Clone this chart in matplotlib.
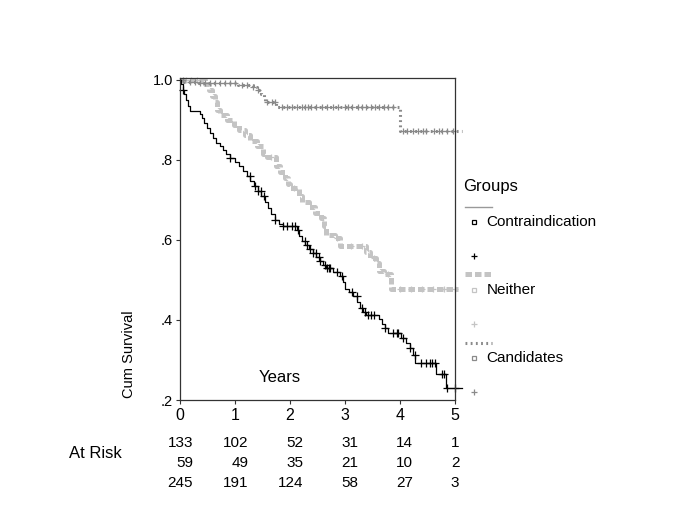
import numpy as np
import matplotlib
matplotlib.use("Agg")
import matplotlib.pyplot as plt

plt.rcParams['font.family'] = ['Liberation Sans', 'DejaVu Sans']

# Kaplan-Meier steps (years, survival after step)
contra_t = [0.02, 0.05, 0.08, 0.11, 0.14, 0.18, 0.36, 0.40, 0.44, 0.49, 0.54, 0.60,
            0.66, 0.72, 0.78, 0.84, 0.90, 1.00, 1.08, 1.15, 1.22, 1.28, 1.35, 1.42,
            1.48, 1.55, 1.60, 1.66, 1.72, 1.80, 1.87, 2.12, 2.17, 2.22, 2.28, 2.35,
            2.42, 2.48, 2.55, 2.60, 2.66, 2.78, 2.90, 2.96, 3.00, 3.08, 3.15, 3.22,
            3.27, 3.33, 3.38, 3.62, 3.67, 3.73, 3.79, 4.02, 4.10, 4.18, 4.23, 4.28,
            4.66, 4.84]
contra_s = [0.99, 0.975, 0.965, 0.95, 0.935, 0.922, 0.915, 0.905, 0.893, 0.88, 0.868, 0.855,
            0.843, 0.835, 0.826, 0.815, 0.805, 0.795, 0.785, 0.772, 0.76, 0.748, 0.735, 0.722,
            0.71, 0.695, 0.68, 0.665, 0.65, 0.64, 0.635, 0.625, 0.61, 0.598, 0.588, 0.578,
            0.568, 0.558, 0.548, 0.537, 0.53, 0.52, 0.51, 0.495, 0.478, 0.47, 0.46, 0.445,
            0.43, 0.42, 0.413, 0.402, 0.39, 0.379, 0.368, 0.356, 0.343, 0.33, 0.312, 0.292,
            0.265, 0.229]
contra_cens = [0.06, 0.9, 1.27, 1.36, 1.42, 1.47, 1.52, 1.73, 1.88, 1.94, 2.03, 2.09,
               2.15, 2.27, 2.31, 2.36, 2.42, 2.47, 2.52, 2.55, 2.64, 2.67, 2.70, 2.73,
               2.85, 2.94, 3.12, 3.21, 3.30, 3.36, 3.42, 3.47, 3.52, 3.73, 3.88, 3.94,
               3.97, 4.06, 4.18, 4.27, 4.39, 4.48, 4.54, 4.58, 4.64, 4.76, 4.80, 4.85, 5.0]
contra_end = 5.12

neither_t = [0.45, 0.52, 0.58, 0.63, 0.67, 0.72, 0.85, 0.98, 1.08, 1.18, 1.28, 1.40,
             1.50, 1.58, 1.75, 1.82, 1.90, 1.97, 2.00, 2.17, 2.22, 2.35, 2.45, 2.56,
             2.62, 2.66, 2.82, 2.90, 3.38, 3.45, 3.56, 3.61, 3.70, 3.83]
neither_s = [0.99, 0.975, 0.96, 0.945, 0.925, 0.912, 0.9, 0.888, 0.875, 0.862, 0.848, 0.835,
             0.815, 0.807, 0.785, 0.77, 0.755, 0.74, 0.729, 0.71, 0.695, 0.683, 0.668, 0.655,
             0.635, 0.613, 0.605, 0.585, 0.571, 0.555, 0.543, 0.522, 0.515, 0.477]
neither_cens = [0.1, 0.2, 0.3, 1.65, 2.08, 2.6, 2.85, 3.1, 3.3, 3.52, 3.78, 4.0, 4.2,
                4.4, 4.6, 4.8, 5.0]
neither_end = 5.06

cand_t = [0.08, 0.30, 1.05, 1.32, 1.40, 1.47, 1.52, 1.55, 1.75, 4.00]
cand_s = [0.995, 0.993, 0.988, 0.982, 0.975, 0.965, 0.955, 0.946, 0.932, 0.873]
cand_cens = [0.06, 0.18, 0.27, 0.36, 0.45, 0.55, 0.64, 0.73, 0.82, 0.91, 1.0, 1.12,
             1.21, 1.33, 1.42, 1.58, 1.67, 1.73, 1.85, 1.94, 2.03, 2.12, 2.21, 2.27,
             2.33, 2.39, 2.48, 2.58, 2.67, 2.79, 2.88, 3.0, 3.06, 3.12, 3.24, 3.30,
             3.39, 3.48, 3.55, 3.61, 3.70, 3.79, 3.88, 4.06, 4.12, 4.24, 4.33, 4.42,
             4.48, 4.61, 4.70, 4.76, 4.85, 4.97]
cand_end = 5.12

risk_times = [0, 1, 2, 3, 4, 5]
risk_contra = [133, 102, 52, 31, 14, 1]
risk_neither = [59, 49, 35, 21, 10, 2]
risk_cand = [245, 191, 124, 58, 27, 3]

group_names = ["Contraindication", "Neither", "Candidates"]
y_ticks = [0.2, 0.4, 0.6, 0.8, 1.0]
y_tick_labels = [".2", ".4", ".6", ".8", "1.0"]

BLACK = "black"
LIGHT = "#c4c4c4"
MID = "#8a8a8a"


def surv_at(times, surv, c):
    i = np.searchsorted(times, c, side='right')
    return np.r_[1.0, surv][i]


def draw_km(ax, times, surv, end, cens, color, lw, ls, mcolor, msize):
    x = np.r_[0.0, times, end]
    y = np.r_[1.0, surv, surv[-1]]
    ax.step(x, y, where='post', color=color, lw=lw, linestyle=ls, clip_on=False)
    cy = [surv_at(times, surv, c) for c in cens]
    ax.plot(cens, cy, linestyle='none', marker='+', color=mcolor,
            markersize=msize, mew=0.9, clip_on=False)


W, H = 685, 513
fig = plt.figure(figsize=(W / 100, H / 100), dpi=100)
ax = fig.add_axes([180 / W, 1 - 400 / H, 275 / W, 322 / H])

draw_km(ax, neither_t, neither_s, neither_end, neither_cens, LIGHT, 3.6,
        (0, (1.3, 0.6)), LIGHT, 5)
draw_km(ax, cand_t, cand_s, cand_end, cand_cens, MID, 2.2,
        (0, (0.6, 1.1)), MID, 5)
draw_km(ax, contra_t, contra_s, contra_end, contra_cens, BLACK, 0.9, '-', BLACK, 6)

ax.set_xlim(0, 5)
ax.set_ylim(0.2, 1.005)
ax.set_xticks(risk_times)
ax.set_yticks(y_ticks)
ax.set_yticklabels(y_tick_labels)
ax.tick_params(axis='x', labelsize=11.5, length=3, width=0.8, pad=3, color='#333333')
ax.tick_params(axis='y', labelsize=10.5, length=3, width=0.8, pad=2, color='#333333')
for sp in ax.spines.values():
    sp.set_color('#333333')
    sp.set_linewidth(0.9)

ax.text(1.82, 0.255, "Years", fontsize=12, ha='center', va='center')

# overlay in pixel coordinates for labels, legend and at-risk table
ov = fig.add_axes([0, 0, 1, 1])
ov.set_xlim(0, W)
ov.set_ylim(H, 0)
ov.axis('off')

ov.text(129, 354, "Cum Survival", fontsize=10.5, rotation=90, ha='center', va='center')

# legend
ov.text(463, 187, "Groups", fontsize=12, ha='left', va='center')
ov.plot([465, 492], [206.5, 206.5], color='#999999', lw=1)
ov.plot([465, 492], [274, 274], color=LIGHT, lw=3.6, linestyle=(0, (1.3, 0.6)))
ov.plot([465, 492], [343, 343], color=MID, lw=2.2, linestyle=(0, (0.6, 1.1)))
leg_rows = [222, 290, 358]
for name, col, yy in zip(group_names, [BLACK, LIGHT, MID], leg_rows):
    ov.plot([474], [yy], marker='s', markersize=3.5, mfc='white', mec=col, mew=0.9)
    ov.text(486.5, yy + 0.5, name, fontsize=11, ha='left', va='center')
    ov.plot([474], [yy + 34], marker='+', markersize=5, color=col, mew=0.9)

# at-risk table
ov.text(69, 454, "At Risk", fontsize=12, ha='left', va='center')
for row, yy in zip([risk_contra, risk_neither, risk_cand], [443, 463, 483]):
    for t, n in zip(risk_times, row):
        off = 0.08 if t == risk_times[-1] else 0.24
        ax.annotate(str(n), xy=(t + off, H - yy), xycoords=('data', 'figure pixels'),
                    fontsize=11, ha='right', va='center', annotation_clip=False)

fig.savefig("out.png", dpi=100)
